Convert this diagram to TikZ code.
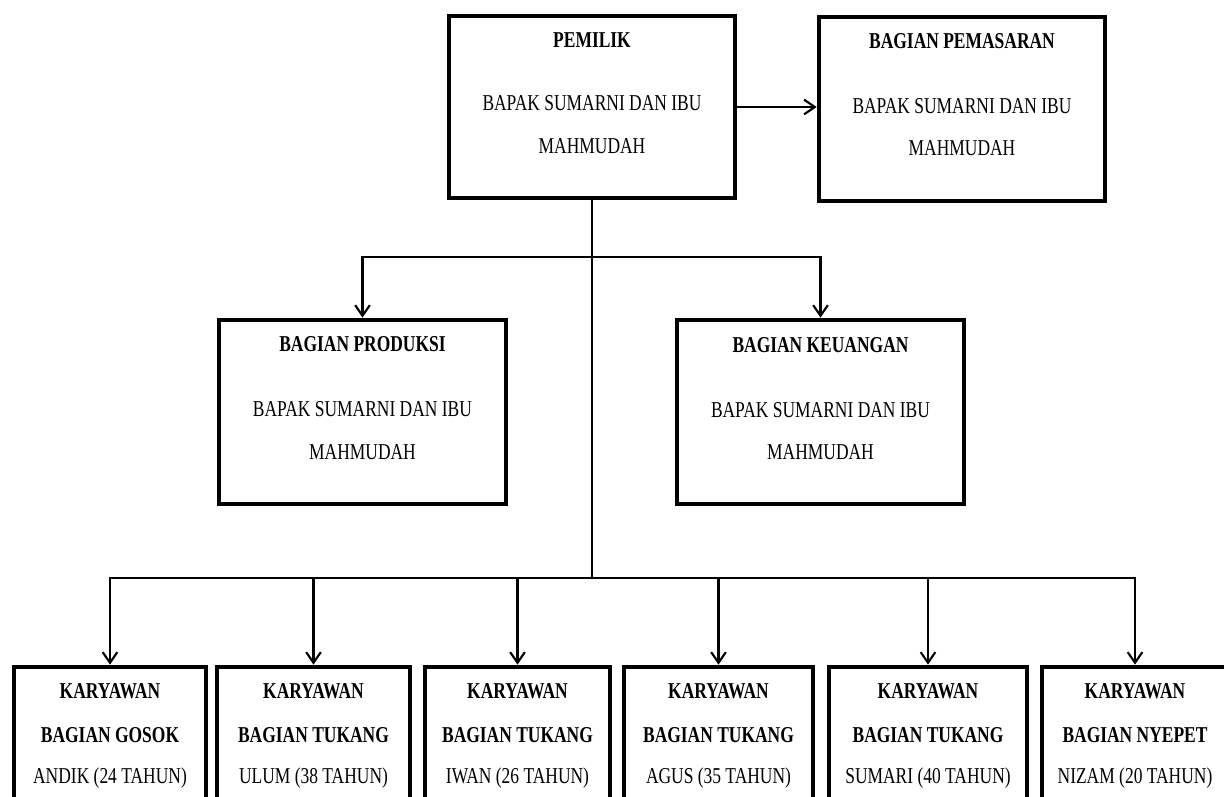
\documentclass[tikz,border=0pt]{standalone}
\usepackage{fontspec}
\setmainfont{Liberation Serif}[FakeStretch=0.77]
\usetikzlibrary{arrows.meta}
\begin{document}
\begin{tikzpicture}[x=0.75pt,y=-0.75pt,
  box/.style={draw, line width=3.5pt, inner sep=0pt},
  ttl/.style={anchor=base, inner sep=0pt, font=\fontsize{17}{20}\selectfont\bfseries},
  txt/.style={anchor=base, inner sep=0pt, font=\fontsize{17}{20}\selectfont},
  conn/.style={line width=1.6pt},
  arr/.style={line width=1.6pt, -{Straight Barb[length=8pt,width=11pt,line width=1.6pt]}}]
\useasboundingbox (0,0) rectangle (1224,796);
\clip (0,0) rectangle (1224,796);
\newcommand\bx[5]{\node[box, minimum width=#4*0.75pt, minimum height=#5*0.75pt] (#1) at (#2,#3) {};}
% boxes
\bx{pemilik}{592}{107}{286}{182}
\bx{pemasaran}{962}{109}{286}{184}
\bx{produksi}{362.5}{412}{287}{184}
\bx{keuangan}{820.5}{412}{287}{184}
\bx{k1}{110}{748.5}{192}{163}
\bx{k2}{313.5}{748.5}{193}{163}
\bx{k3}{517.5}{748.5}{185}{163}
\bx{k4}{718.5}{748.5}{189}{163}
\bx{k5}{928}{748.5}{198}{163}
\bx{k6}{1135}{748.5}{186}{163}
% texts
\node[ttl] (t1a) at (592,47) {PEMILIK};
\node[txt] (t1b) at (592,110) {BAPAK SUMARNI DAN IBU};
\node[txt] (t1c) at (592,153) {MAHMUDAH};
\node[ttl] (t2a) at (962,48) {BAGIAN PEMASARAN};
\node[txt] (t2b) at (962,113) {BAPAK SUMARNI DAN IBU};
\node[txt] (t2c) at (962,155) {MAHMUDAH};
\node[ttl] (t3a) at (362.5,351) {BAGIAN PRODUKSI};
\node[txt] (t3b) at (362.5,416) {BAPAK SUMARNI DAN IBU};
\node[txt] (t3c) at (362.5,459) {MAHMUDAH};
\node[ttl] (t4a) at (820.5,352) {BAGIAN KEUANGAN};
\node[txt] (t4b) at (820.5,417) {BAPAK SUMARNI DAN IBU};
\node[txt] (t4c) at (820.5,459) {MAHMUDAH};
\foreach \n/\x/\b/\p in {1/110/GOSOK/ANDIK (24 TAHUN),
                         2/313.5/TUKANG/ULUM (38 TAHUN),
                         3/517.5/TUKANG/IWAN (26 TAHUN),
                         4/718.5/TUKANG/AGUS (35 TAHUN),
                         5/928/TUKANG/SUMARI (40 TAHUN),
                         6/1135/NYEPET/NIZAM (20 TAHUN)}{
  \node[ttl] (ka\n) at (\x,698) {KARYAWAN};
  \node[ttl] (kb\n) at (\x,742) {BAGIAN \b};
  \node[txt] (kc\n) at (\x,783) {\p};
}
% connectors
\coordinate (j1) at (592,257);
\coordinate (j2) at (592,578);
\draw[arr] (pemilik.east) -- (pemilik.east -| pemasaran.west);
\draw[conn] (pemilik.south) -- (j2);
\draw[arr] (j1) -| (produksi.north);
\draw[arr] (j1) -| (keuangan.north);
\foreach \k in {k1,k2,k3,k4,k5,k6}{
  \draw[arr] (j2) -| (\k.north);
}
\end{tikzpicture}
\end{document}
